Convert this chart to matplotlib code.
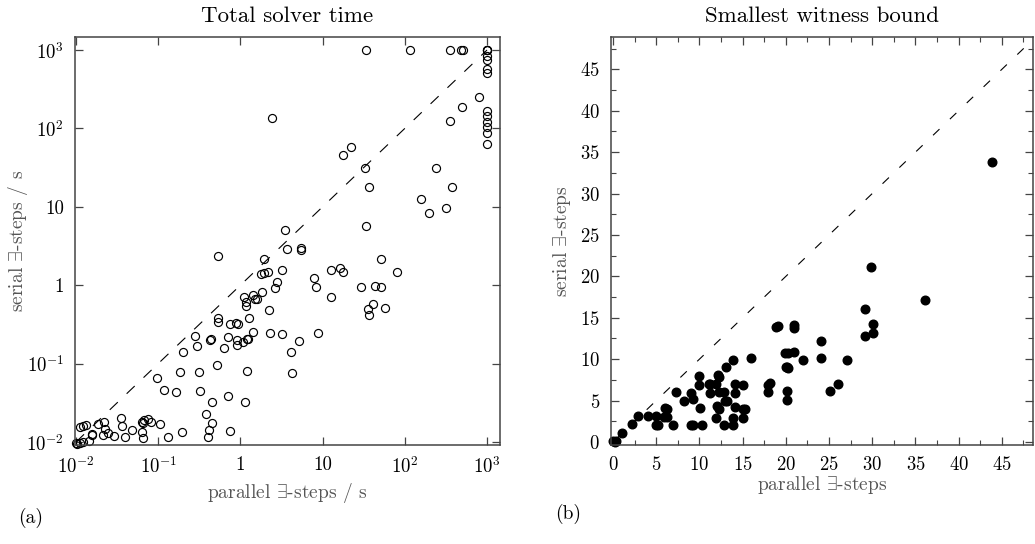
# -*- coding: utf-8 -*-
import numpy as np
import matplotlib
matplotlib.use('Agg')
import matplotlib.pyplot as plt
from matplotlib.ticker import FixedLocator, MultipleLocator

plt.rcParams['font.family'] = ['cmr10', 'DejaVu Serif']
plt.rcParams['mathtext.fontset'] = 'cm'
plt.rcParams['axes.unicode_minus'] = False
plt.rcParams['axes.formatter.use_mathtext'] = True

# (a) total solver time, seconds
time_parallel = [
    34.0, 116, 355, 487, 510, 1000, 1000, 1000, 1000, 1000, 1000, 1000,
    1000, 1000, 1000, 1000, 1000, 1000,
    792, 496, 351, 242, 375, 159, 195, 320,
    34.0, 36.3, 32.4, 17.7, 22.1, 2.41,
    3.51, 3.74, 5.49, 5.49, 1.96, 0.541, 3.25, 1.79, 1.96, 2.14, 2.77, 2.65,
    1.12, 1.17, 1.44, 1.17, 1.51, 1.58, 1.82, 2.22, 1.27, 0.541, 0.541,
    0.750, 0.946, 0.895, 0.281, 0.295, 0.440, 0.428, 0.703, 0.904, 0.904,
    1.09, 1.22, 1.25, 1.44, 2.30, 3.25, 0.199, 0.634, 0.185, 0.315, 0.516,
    1.22, 4.15, 4.27, 5.19, 8.84, 7.76, 8.36, 12.7, 12.7, 16.1, 17.8, 29.5,
    43.7, 51.2, 51.2, 80.2, 35.3, 40.9, 36.6, 57.8,
    0.096, 0.118, 0.167, 0.321, 0.453, 0.703, 1.14, 0.383, 0.453, 0.420,
    0.409, 0.757, 0.194, 0.133, 0.105, 0.0811, 0.0760, 0.0680, 0.0661,
    0.0643, 0.0648, 0.0631, 0.0486, 0.0395, 0.0367, 0.0350, 0.0290, 0.0248,
    0.0228, 0.0215, 0.0221, 0.0187, 0.0158, 0.0155, 0.0132, 0.0123, 0.0112,
    0.0145, 0.0123, 0.0112, 0.0100, 0.0104,
]
time_serial = [
    1000, 1000, 1000, 1000, 1000, 1000, 1000, 1000, 850, 750, 570, 505,
    167, 143, 122, 103, 87, 64,
    251, 189, 124, 30.9, 17.8, 12.4, 8.38, 9.53,
    5.66, 17.8, 31.5, 45.7, 57.2, 137,
    4.99, 2.88, 3.00, 2.80, 2.19, 2.39, 1.58, 1.41, 1.44, 1.49, 1.10, 0.925,
    0.703, 0.607, 0.753, 0.550, 0.670, 0.670, 0.814, 0.480, 0.386, 0.383,
    0.344, 0.324, 0.324, 0.330, 0.223, 0.166, 0.208, 0.202, 0.217, 0.199,
    0.175, 0.189, 0.206, 0.208, 0.256, 0.244, 0.242, 0.142, 0.159, 0.0775,
    0.0775, 0.0953, 0.0798, 0.142, 0.0760, 0.195, 0.244, 1.25, 0.96, 1.55,
    0.703, 1.65, 1.46, 0.94, 0.97, 0.96, 2.13, 1.46, 0.494, 0.572, 0.418,
    0.514,
    0.065, 0.0457, 0.0435, 0.0444, 0.0327, 0.0387, 0.0327, 0.0230, 0.0175,
    0.0144, 0.0116, 0.0138, 0.0134, 0.0116, 0.0171, 0.0180, 0.0197, 0.0189,
    0.0175, 0.0178, 0.0111, 0.0134, 0.0144, 0.0116, 0.0158, 0.0200, 0.0118,
    0.0130, 0.0148, 0.0124, 0.0182, 0.0171, 0.0126, 0.0122, 0.0166, 0.0158,
    0.0155, 0.0104, 0.0100, 0.0097, 0.0097, 0.0094,
]

# (b) smallest witness bound, number of exists-steps
bound_parallel = [
    0.0, 0.2, 0.3, 1.1, 2.2, 2.9, 4.1, 5.0, 5.0, 5.2, 6.06, 6.2, 5.95, 6.25,
    7.0, 7.3, 8.2, 9.0, 9.3, 9.0, 9.3, 10.0, 10.0, 10.1, 10.3, 11.1, 11.2,
    11.2, 11.9, 12.2, 12.25, 12.0, 12.3, 11.9, 12.3, 12.9, 12.8, 13.05, 13.0,
    13.2, 13.9, 14.1, 14.1, 14.1, 13.9, 13.9, 15.0, 15.0, 15.3, 15.0, 15.95,
    17.95, 18.2, 17.9, 18.9, 19.1, 19.96, 20.2, 20.0, 20.2, 20.1, 20.1,
    20.15, 20.9, 20.95, 20.9, 22.0, 24.05, 24.1, 25.1, 26.05, 27.1, 29.15,
    29.2, 29.8, 30.1, 30.1, 36.1, 43.8,
]
bound_serial = [
    0.1, 0.0, 0.1, 1.1, 2.2, 3.2, 3.2, 3.1, 2.0, 2.1, 4.1, 4.0, 3.0, 3.0,
    2.1, 6.0, 5.0, 5.9, 5.2, 2.0, 2.1, 8.0, 6.9, 4.1, 2.05, 7.0, 7.0, 5.9,
    7.0, 8.1, 7.9, 4.3, 4.0, 2.9, 6.0, 6.0, 2.0, 9.1, 4.9, 4.9, 9.95, 7.0,
    5.9, 4.2, 2.9, 2.0, 6.85, 4.0, 4.0, 2.9, 10.15, 6.85, 7.1, 6.0, 13.9,
    14.0, 10.8, 10.8, 9.0, 8.9, 9.1, 6.1, 5.1, 14.1, 13.8, 10.9, 9.9, 12.2,
    10.1, 6.2, 7.0, 9.9, 16.1, 12.85, 21.15, 14.2, 13.2, 17.1, 33.8,
]

log_ticks = [1e-2, 1e-1, 1, 10, 1e2, 1e3]
log_ticklabels = [r'$10^{-2}$', r'$10^{-1}$', '1', '10', r'$10^{2}$', r'$10^{3}$']

frame_col = '#444444'
label_col = '#555555'

fig = plt.figure(figsize=(10.35, 5.44), dpi=100)
ax1 = fig.add_axes([75/1035, 1-445/544, 425/1035, 408/544])
ax2 = fig.add_axes([611/1035, 1-445/544, 422/1035, 408/544])


def style_axes(ax):
    for s in ax.spines.values():
        s.set_color(frame_col)
        s.set_linewidth(1.1)
    ax.tick_params(which='both', direction='in', top=True, right=True,
                   color=frame_col, labelsize=13.5, labelcolor='black')
    ax.tick_params(which='major', length=6, width=0.9, pad=8)
    ax.tick_params(which='minor', length=3.5, width=0.8)


# panel (a)
ax1.set_xscale('log')
ax1.set_yscale('log')
ax1.plot([1e-2, 1e3], [1e-2, 1e3], color='black', lw=0.8, dashes=(10, 11))
ax1.plot(time_parallel, time_serial, 'o', mfc='none', mec='black',
         ms=5.8, mew=0.85, clip_on=False)
ax1.set_xlim(10**-2.012, 10**3.158)
ax1.set_ylim(10**-2.038, 10**3.166)
ax1.xaxis.set_major_locator(FixedLocator(log_ticks))
ax1.yaxis.set_major_locator(FixedLocator(log_ticks))
ax1.set_xticklabels(log_ticklabels)
ax1.set_yticklabels(log_ticklabels)
ax1.minorticks_off()
style_axes(ax1)
ax1.set_title('Total solver time', fontsize=16.5, pad=11)
ax1.set_xlabel(r'parallel $\exists$-steps / s', fontsize=14, color=label_col)
ax1.set_ylabel(r'serial $\exists$-steps / s', fontsize=14, color=label_col)
ax1.xaxis.set_label_coords(0.5, -0.088)
ax1.yaxis.set_label_coords(-0.105, 0.5)

# panel (b)
ax2.plot([0, 48], [0, 48], color='black', lw=0.8, dashes=(8, 13))
ax2.plot(bound_parallel, bound_serial, 'o', color='black', ms=6.2,
         clip_on=False)
ax2.set_xlim(-0.23, 48.6)
ax2.set_ylim(-0.36, 48.9)
ax2.xaxis.set_major_locator(MultipleLocator(5))
ax2.yaxis.set_major_locator(MultipleLocator(5))
ax2.xaxis.set_minor_locator(MultipleLocator(2.5))
ax2.yaxis.set_minor_locator(MultipleLocator(2.5))
style_axes(ax2)
ax2.set_title('Smallest witness bound', fontsize=16.5, pad=11)
ax2.set_xlabel(r'parallel $\exists$-steps', fontsize=14, color=label_col)
ax2.set_ylabel(r'serial $\exists$-steps', fontsize=14, color=label_col)
ax2.xaxis.set_label_coords(0.5, -0.07)
ax2.yaxis.set_label_coords(-0.09, 0.5)

fig.text(18/1035, 1-518/544, '(a)', fontsize=14, va='center', ha='left')
fig.text(555/1035, 1-514/544, '(b)', fontsize=14, va='center', ha='left')

fig.savefig('out.png', dpi=100)
